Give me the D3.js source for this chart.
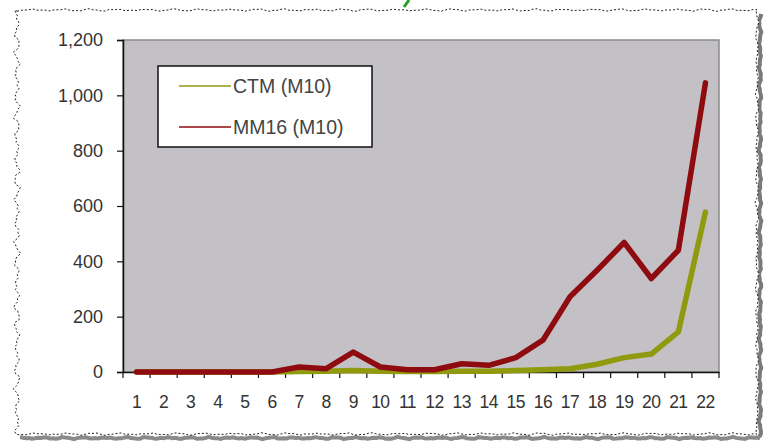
<!DOCTYPE html>
<html>
<head>
<meta charset="utf-8">
<script src="https://cdn.jsdelivr.net/npm/d3@7"></script>
<style>
  body { margin: 0; background: #fff; }
  text { font-family: "Liberation Sans", Arial, sans-serif; }
</style>
</head>
<body>
<div id="chart"></div>
<script>
// chart values
const categories = d3.range(1, 23).map(String);
const ctm = [0, 0, 0, 0, 0, 0, 2, 3, 5, 3, 2, 2, 3, 3, 5, 8, 12, 28, 52, 65, 145, 578];
const mm16 = [0, 0, 0, 0, 0, 0, 18, 12, 72, 18, 8, 8, 30, 24, 52, 115, 272, 368, 468, 338, 440, 1045];
const yTicks = [0, 200, 400, 600, 800, 1000, 1200];
const seriesNames = ["CTM (M10)", "MM16 (M10)"];
const seriesColors = ["#8f9a0e", "#8e0b10"];

const width = 769;
const height = 443;
const plot = { left: 123, right: 719, top: 40, bottom: 372 };

const svg = d3.select("#chart")
    .append("svg")
    .attr("width", width)
    .attr("height", height);

// torn-paper style frame
function jagged(x0, y0, x1, y1, amp, step, seed) {
    const pts = [];
    const len = Math.hypot(x1 - x0, y1 - y0);
    const n = Math.round(len / step);
    const nx = -(y1 - y0) / len, ny = (x1 - x0) / len;
    for (let i = 0; i <= n; i++) {
        const t = i / n;
        const off = amp * (Math.sin(i * 0.9 + seed) * 0.5 + Math.sin(i * 2.3 + seed * 2) * 0.3 + Math.sin(i * 5.1 + seed) * 0.2);
        pts.push([x0 + (x1 - x0) * t + nx * off, y0 + (y1 - y0) * t + ny * off]);
    }
    return pts;
}
const frame = [].concat(
    jagged(17, 10, 757, 10, 1.5, 4, 1),
    jagged(757, 10, 757, 434, 2, 4, 2),
    jagged(757, 434, 17, 434, 1.5, 4, 3),
    jagged(17, 434, 17, 10, 4, 3, 4)
);
// shadow on the right and bottom
svg.append("path")
    .attr("d", d3.line()(jagged(760, 14, 760, 437, 1.5, 3, 5)))
    .attr("fill", "none").attr("stroke", "#7a7a7a").attr("stroke-width", 4);
svg.append("path")
    .attr("d", d3.line()(jagged(760, 438, 20, 438, 1.2, 3, 6)))
    .attr("fill", "none").attr("stroke", "#8a8a8a").attr("stroke-width", 4);
svg.append("path")
    .attr("d", d3.line().curve(d3.curveLinearClosed)(frame))
    .attr("fill", "#fff")
    .attr("stroke", "#222")
    .attr("stroke-width", 1)
    .attr("stroke-dasharray", "2,2");
// small green stroke at the top edge
svg.append("path")
    .attr("d", "M409,0 L404,7")
    .attr("stroke", "#22a022")
    .attr("stroke-width", 3);

const x = d3.scaleBand()
    .domain(categories)
    .range([plot.left, plot.right]);

const y = d3.scaleLinear()
    .domain([0, 1200])
    .range([plot.bottom, plot.top]);

// plot area
svg.append("rect")
    .attr("x", plot.left)
    .attr("y", plot.top)
    .attr("width", plot.right - plot.left)
    .attr("height", plot.bottom - plot.top)
    .attr("fill", "#c3c1c5")
    .attr("stroke", "#8a8a8a")
    .attr("stroke-width", 1.5);

// y axis
const yAxis = svg.append("g")
    .attr("transform", `translate(${plot.left},0)`)
    .call(d3.axisLeft(y)
        .tickValues(yTicks)
        .tickFormat(d3.format(","))
        .tickSize(6)
        .tickPadding(14));
yAxis.select(".domain").attr("stroke", "#111").attr("stroke-width", 1.5);
yAxis.selectAll(".tick line").attr("stroke", "#111").attr("stroke-width", 1.2);
yAxis.selectAll("text")
    .attr("font-size", 18)
    .attr("fill", "#333")
    .style("font-family", "'Liberation Sans', Arial, sans-serif");

// x axis with ticks between categories
const xAxis = svg.append("g")
    .attr("transform", `translate(0,${plot.bottom})`)
    .call(d3.axisBottom(x).tickSize(0).tickPadding(24));
xAxis.select(".domain").attr("stroke", "#111").attr("stroke-width", 1.5);
xAxis.selectAll("text")
    .attr("font-size", 17.5)
    .attr("fill", "#333")
    .attr("letter-spacing", "-0.5")
    .style("font-family", "'Liberation Sans', Arial, sans-serif");
xAxis.selectAll(".between")
    .data(categories.concat(["end"]))
    .enter()
    .append("line")
    .attr("class", "between")
    .attr("x1", (d, i) => i < categories.length ? x(d) : plot.right)
    .attr("x2", (d, i) => i < categories.length ? x(d) : plot.right)
    .attr("y1", 0)
    .attr("y2", 6)
    .attr("stroke", "#111")
    .attr("stroke-width", 1.2);

// lines
const line = d3.line()
    .x((d, i) => x(categories[i]) + x.bandwidth() / 2)
    .y(d => y(d));

[ctm, mm16].forEach((values, k) => {
    svg.append("path")
        .datum(values)
        .attr("d", line)
        .attr("fill", "none")
        .attr("stroke", seriesColors[k])
        .attr("stroke-width", 5.5)
        .attr("stroke-linejoin", "round")
        .attr("stroke-linecap", "round");
});

// legend
const legend = svg.append("g");
legend.append("rect")
    .attr("x", 158)
    .attr("y", 66)
    .attr("width", 214)
    .attr("height", 81)
    .attr("fill", "#fff")
    .attr("stroke", "#111")
    .attr("stroke-width", 1.5);

seriesNames.forEach((name, k) => {
    const ly = 86 + k * 41;
    legend.append("line")
        .attr("x1", 179).attr("x2", 231)
        .attr("y1", ly).attr("y2", ly)
        .attr("stroke", seriesColors[k])
        .attr("stroke-width", 1.5);
    legend.append("text")
        .attr("x", 233)
        .attr("y", ly)
        .attr("dy", "0.35em")
        .attr("font-size", 19.5)
        .attr("fill", "#444")
        .text(name);
});
</script>
</body>
</html>
